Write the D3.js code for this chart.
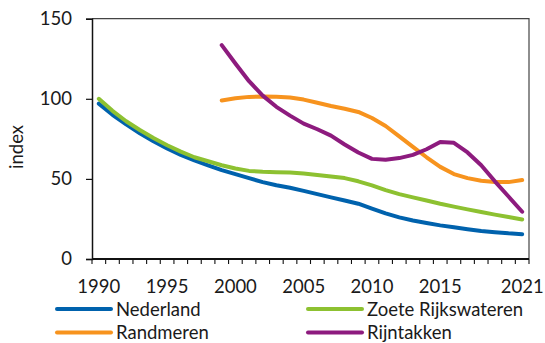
<!DOCTYPE html>
<html>
<head>
<meta charset="utf-8">
<script src="https://cdn.jsdelivr.net/npm/d3@7"></script>
<style>
  html, body { margin: 0; padding: 0; background: #fff; }
  svg { display: block; }
  text { font-family: Lato, "Open Sans", sans-serif; fill: #1a1a1a; }
</style>
</head>
<body>
<svg id="chart" width="545" height="343"></svg>
<script>
// Years on the category axis
const years = d3.range(1990, 2022);
// Labelled years on the x axis
const tickLabels = [1990, 1995, 2000, 2005, 2010, 2015, 2021];
const yTicks = [0, 50, 100, 150];

// Index series (null = no measurement)
const nederland = [97, 90, 84, 78.5, 73.5, 69, 65, 61.5, 58.5, 55.5,
  53, 50.5, 48, 46, 44.5, 42.5, 40.5, 38.5, 36.5, 34.5,
  31.5, 28.5, 26, 24, 22.5, 21, 19.8, 18.6, 17.5, 16.7, 16, 15.5];
const zoeteRijkswateren = [100, 92.5, 86, 80.5, 75.5, 71, 67, 63.5, 61, 58.5,
  56.5, 55, 54.5, 54.2, 54, 53.3, 52.5, 51.5, 50.5, 48.5,
  46, 43, 40.5, 38.5, 36.5, 34.5, 32.7, 31, 29.3, 27.7, 26.2, 24.7];
const randmeren = [null, null, null, null, null, null, null, null, null, 99,
  100.3, 101.2, 101.5, 101.3, 100.8, 99.5, 97.5, 95.5, 93.8, 91.8,
  88, 83, 76.5, 70, 63.5, 57.5, 53, 50.5, 48.8, 48, 48, 49.3];
const rijntakken = [null, null, null, null, null, null, null, null, null, 133.5,
  122, 111, 102, 95, 89.5, 84.5, 81, 77, 71.5, 66.5,
  62.5, 62, 63, 65, 68.5, 73, 72.5, 66.5, 58.5, 48.5, 39, 29.5];

const seriesNames = ["Nederland", "Zoete Rijkswateren", "Randmeren", "Rijntakken"];
const seriesValues = [nederland, zoeteRijkswateren, randmeren, rijntakken];
const seriesColors = ["#0062ad", "#8dc131", "#f7931e", "#8d1b7e"];

const svg = d3.select("#chart");
const plot = { left: 92, right: 529, top: 18.7, bottom: 259 };

const x = d3.scaleBand().domain(years).range([plot.left, plot.right]).padding(0);
const y = d3.scaleLinear().domain([0, 150]).range([plot.bottom, plot.top]);
const cx = yr => x(yr) + x.bandwidth() / 2;

// Plot frame (top and right)
svg.append("path")
  .attr("d", `M${plot.left},${plot.top}H${plot.right}V${plot.bottom}`)
  .attr("fill", "none").attr("stroke", "#444").attr("stroke-width", 1.2);

// Y axis
const yAxis = d3.axisLeft(y).tickValues(yTicks).tickSize(6).tickPadding(14);
const gy = svg.append("g").attr("transform", `translate(${plot.left},0)`).call(yAxis);
gy.select(".domain").attr("stroke", "#111").attr("stroke-width", 1.5);
gy.selectAll(".tick line").attr("stroke", "#111").attr("stroke-width", 1.2);
gy.selectAll(".tick text").attr("font-size", 18.5).attr("fill", "#1a1a1a")
  .style("font-family", "Lato, sans-serif");

// Y axis title
svg.append("text")
  .attr("transform", `translate(23,147) rotate(-90)`)
  .attr("text-anchor", "middle")
  .attr("font-size", 18.5)
  .text("index");

// X axis: tick marks on category boundaries
const boundaries = years.map(yr => x(yr)).concat([plot.right]);
const gx = svg.append("g");
gx.selectAll("line.tk").data(boundaries).join("line")
  .attr("class", "tk")
  .attr("x1", d => d).attr("x2", d => d)
  .attr("y1", plot.bottom).attr("y2", plot.bottom + 5)
  .attr("stroke", "#111").attr("stroke-width", 1.1);
gx.append("line")
  .attr("x1", plot.left).attr("x2", plot.right)
  .attr("y1", plot.bottom).attr("y2", plot.bottom)
  .attr("stroke", "#111").attr("stroke-width", 1.8);
gx.selectAll("text").data(tickLabels).join("text")
  .attr("x", d => cx(d))
  .attr("y", 293)
  .attr("text-anchor", "middle")
  .attr("font-size", 18.5)
  .text(d => d);

// Series lines
const line = d3.line()
  .defined(d => d.v != null)
  .x(d => cx(d.year))
  .y(d => y(d.v));

seriesValues.forEach((vals, i) => {
  const data = years.map((yr, j) => ({ year: yr, v: vals[j] }));
  svg.append("path")
    .datum(data)
    .attr("d", line)
    .attr("fill", "none")
    .attr("stroke", seriesColors[i])
    .attr("stroke-width", 4)
    .attr("stroke-linecap", "round")
    .attr("stroke-linejoin", "round");
});

// Legend (2 x 2)
const legendPos = [
  { lx: 57, ly: 309 }, { lx: 308, ly: 309 },
  { lx: 57, ly: 332.5 }, { lx: 308, ly: 332.5 }
];
seriesNames.forEach((name, i) => {
  const p = legendPos[i];
  const g = svg.append("g");
  g.append("line")
    .attr("x1", p.lx).attr("x2", p.lx + 54)
    .attr("y1", p.ly).attr("y2", p.ly)
    .attr("stroke", seriesColors[i]).attr("stroke-width", 4)
    .attr("stroke-linecap", "round");
  g.append("text")
    .attr("x", p.lx + 59)
    .attr("y", p.ly + 6.5)
    .attr("font-size", 18.5)
    .text(name);
});
</script>
</body>
</html>
